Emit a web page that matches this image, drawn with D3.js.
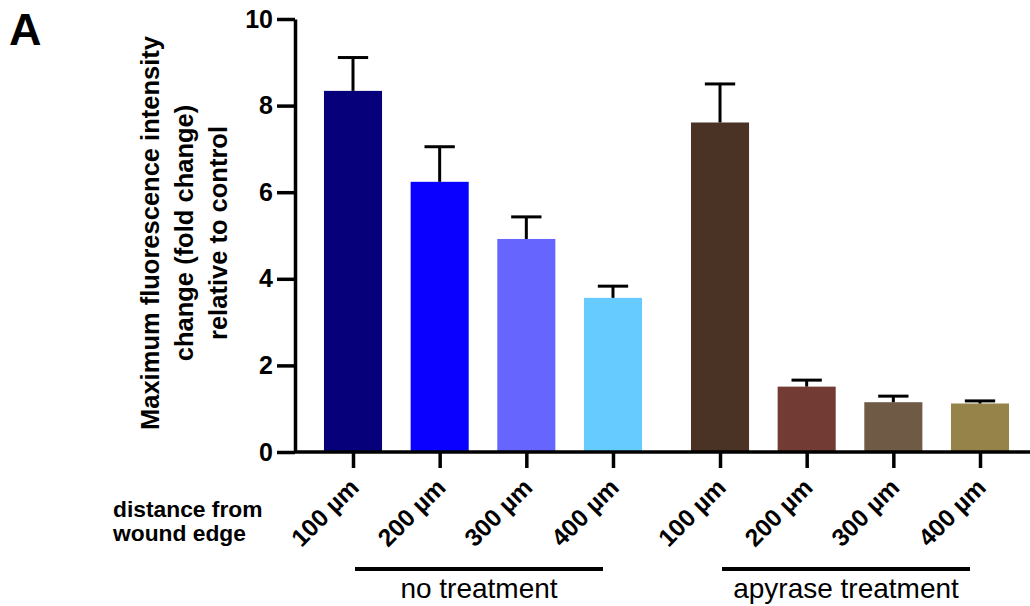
<!DOCTYPE html>
<meta charset="utf-8">
<style>
body { margin: 0; background: #fff; }
text { font-family: "Liberation Sans", Arial, sans-serif; fill: #000; }
.axis path, .axis line { stroke: #000; stroke-width: 3.5; }
.axis text { font-weight: bold; }
.y.axis text { font-size: 25px; }
.x.axis text { font-size: 24.5px; }
</style>
<svg width="1030" height="606"></svg>
<script src="https://d3js.org/d3.v7.min.js"></script>
<script>

var distances = ["100 µm", "200 µm", "300 µm", "400 µm"];
var groups = ["no treatment", "apyrase treatment"];
var noTreatMean = [8.34, 6.24, 4.92, 3.56];
var noTreatErr = [0.77, 0.81, 0.51, 0.27];
var apyraseMean = [7.61, 1.51, 1.15, 1.12];
var apyraseErr = [0.89, 0.15, 0.14, 0.06];
var noTreatColors = ["#06007a", "#0a00ff", "#6666ff", "#66ccff"];
var apyraseColors = ["#4a3225", "#723c35", "#6f5a46", "#958349"];
var yTicks = [0, 2, 4, 6, 8, 10];

var svg = d3.select("svg");

// one row per bar; pos leaves a small gap between the two groups
var bars = [];
[noTreatMean, apyraseMean].forEach(function(means, g) {
  var errs = g ? apyraseErr : noTreatErr,
      cols = g ? apyraseColors : noTreatColors;
  means.forEach(function(m, i) {
    bars.push({group: g, label: distances[i], mean: m, err: errs[i], color: cols[i], pos: g * 4.235 + i});
  });
});

var x = d3.scaleLinear().domain([0, 7.235]).range([353, 980]);
var y = d3.scaleLinear().domain([0, 10]).range([452, 19]);
var step = x(1) - x(0),
    bw = step * 0.67,
    capW = step * 0.35;

// bars
svg.append("g").selectAll("rect")
  .data(bars)
  .enter().append("rect")
    .attr("x", function(d) { return x(d.pos) - bw / 2; })
    .attr("y", function(d) { return y(d.mean); })
    .attr("width", bw)
    .attr("height", function(d) { return y(0) - y(d.mean); })
    .attr("fill", function(d) { return d.color; });

// error bars (upper only)
var eb = svg.append("g").attr("stroke", "#000").attr("stroke-width", 3);
eb.selectAll(".stem")
  .data(bars)
  .enter().append("line")
    .attr("x1", function(d) { return x(d.pos); })
    .attr("x2", function(d) { return x(d.pos); })
    .attr("y1", function(d) { return y(d.mean); })
    .attr("y2", function(d) { return y(d.mean + d.err); });
eb.selectAll(".cap")
  .data(bars)
  .enter().append("line")
    .attr("x1", function(d) { return x(d.pos) - capW / 2; })
    .attr("x2", function(d) { return x(d.pos) + capW / 2; })
    .attr("y1", function(d) { return y(d.mean + d.err); })
    .attr("y2", function(d) { return y(d.mean + d.err); });

// y axis
svg.append("g")
    .attr("class", "y axis")
    .attr("transform", "translate(295,0)")
    .call(d3.axisLeft(y).tickValues(yTicks).tickSize(18).tickPadding(4).tickSizeOuter(0));

// x axis
var xAxis = svg.append("g")
    .attr("class", "x axis")
    .attr("transform", "translate(0," + y(0) + ")");
xAxis.append("line")
    .attr("x1", 295).attr("x2", 1030)
    .attr("y1", 0).attr("y2", 0);
xAxis.call(d3.axisBottom(x)
    .tickValues(bars.map(function(d) { return d.pos; }))
    .tickFormat(function(v, i) { return bars[i].label; })
    .tickSize(16)
    .tickSizeOuter(0));
xAxis.select(".domain").remove();
xAxis.selectAll(".tick text")
    .attr("x", 0).attr("y", 0).attr("dy", 0)
    .attr("text-anchor", "end")
    .attr("transform", "translate(7,37) rotate(-45)");

// group brackets
svg.append("g").selectAll("g")
  .data(groups)
  .enter().append("g")
  .each(function(name, g) {
    var sel = d3.select(this),
        x0 = x(g * 4.235) + 2,
        x1 = x(g * 4.235 + 3) - 10;
    sel.append("line")
        .attr("x1", x0).attr("x2", x1)
        .attr("y1", 569).attr("y2", 569)
        .attr("stroke", "#000").attr("stroke-width", 4);
    sel.append("text")
        .attr("x", (x0 + x1) / 2)
        .attr("y", 598)
        .attr("text-anchor", "middle")
        .attr("font-size", 28)
        .text(name);
  });

// y axis title
svg.append("text")
    .attr("transform", "translate(159,233) rotate(-90)")
    .attr("text-anchor", "middle")
    .attr("font-size", 25.5)
    .attr("font-weight", "bold")
  .selectAll("tspan")
  .data(["Maximum fluorescence intensity", "change (fold change)", "relative to control"])
  .enter().append("tspan")
    .attr("x", 0)
    .attr("dy", function(d, i) { return i ? 34 : 0; })
    .text(function(d) { return d; });

// row title for the x labels
svg.append("text")
    .attr("x", 113).attr("y", 517)
    .attr("font-size", 22.8)
    .attr("font-weight", "bold")
  .selectAll("tspan")
  .data(["distance from", "wound edge"])
  .enter().append("tspan")
    .attr("x", 113)
    .attr("dy", function(d, i) { return i ? 24 : 0; })
    .text(function(d) { return d; });

// panel letter
svg.append("text")
    .attr("x", 9).attr("y", 45)
    .attr("font-size", 45)
    .attr("font-weight", "bold")
    .text("A");

</script>
